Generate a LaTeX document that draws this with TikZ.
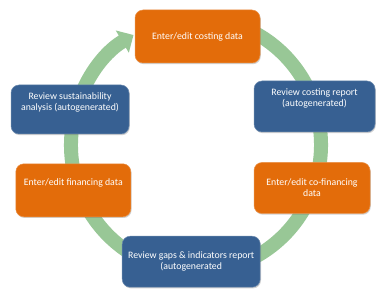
\documentclass[tikz,border=0pt]{standalone}
\usepackage{fontspec}
\setmainfont{Carlito}
\usetikzlibrary{arrows.meta,shadows}
\definecolor{boxorange}{RGB}{227,108,10}
\definecolor{boxblue}{RGB}{55,96,146}
\definecolor{ringgreen}{RGB}{152,199,150}
\tikzset{
  box/.style={rounded corners=8pt, draw=#1!75!white, line width=0.5pt, fill=#1,
    drop shadow={shadow xshift=0.8pt, shadow yshift=-1.2pt, opacity=0.3, fill=black!60}},
  txt/.style={text=white, align=center, font=\fontsize{9.8}{11}\selectfont, inner sep=0pt}
}
\begin{document}
\begin{tikzpicture}[x=1pt,y=1pt]
\useasboundingbox[fill=white] (0,0) rectangle (383,297);
% ring
\coordinate (ringc) at (196,152);
\draw[ringgreen, line width=14pt, -{Triangle[width=25pt,length=13pt]}]
  ([shift={(80:125 and 127)}]ringc) arc[start angle=80, end angle=-240, x radius=125, y radius=127];
% boxes
\node[box=boxorange, minimum width=125pt, minimum height=53pt] (b1) at (197.5,260.5) {};
\node[box=boxblue, minimum width=121pt, minimum height=51pt] (b2) at (314.5,190.5) {};
\node[box=boxorange, minimum width=116pt, minimum height=51pt] (b3) at (312,109) {};
\node[box=boxblue, minimum width=138pt, minimum height=51pt] (b4) at (191.2,35.3) {};
\node[box=boxorange, minimum width=115pt, minimum height=53pt] (b5) at (73.3,106.7) {};
\node[box=boxblue, minimum width=118pt, minimum height=49pt] (b6) at (70,187.5) {};
% texts
\node[txt] (t1) at (b1.center) {Enter/edit costing data};
\node[txt] (t2) at ([yshift=8pt]b2.center) {Review costing report\\(autogenerated)};
\node[txt] (t3) at (b3.center) {Enter/edit co-financing\\data};
\node[txt] (t4) at (b4.center) {Review gaps \& indicators report\\(autogenerated};
\node[txt] (t5) at ([yshift=7pt]b5.center) {Enter/edit financing data};
\node[txt] (t6) at ([yshift=7pt]b6.center) {Review sustainability\\analysis (autogenerated)};
\end{tikzpicture}
\end{document}
